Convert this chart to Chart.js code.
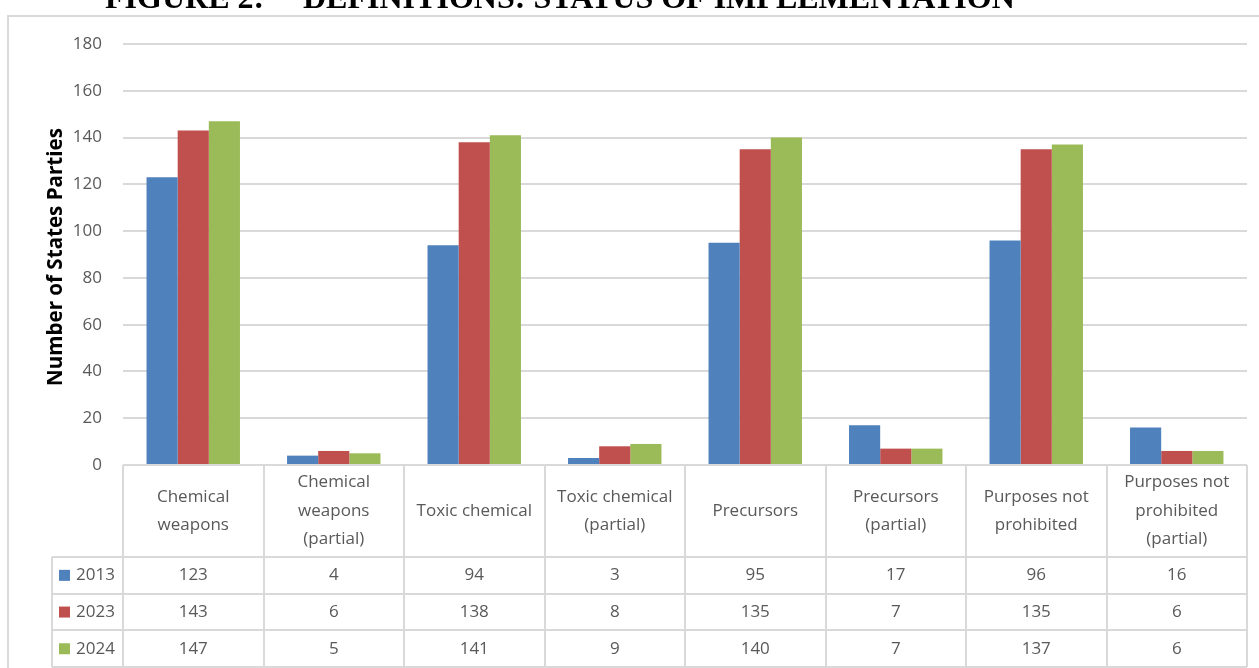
<!DOCTYPE html>
<html>
<head>
<meta charset="utf-8">
<script src="https://cdn.jsdelivr.net/npm/chart.js@4"></script>
<style>
  html, body { margin: 0; padding: 0; background: #ffffff; }
  #wrap { width: 1259px; height: 668px; position: relative; }
</style>
</head>
<body>
<div id="wrap"><canvas id="c" width="1259" height="668"></canvas></div>
<script>
const categories = [
  ["Chemical", "weapons"],
  ["Chemical", "weapons", "(partial)"],
  ["Toxic chemical"],
  ["Toxic chemical", "(partial)"],
  ["Precursors"],
  ["Precursors", "(partial)"],
  ["Purposes not", "prohibited"],
  ["Purposes not", "prohibited", "(partial)"]
];
const seriesNames = ["2013", "2023", "2024"];
const values2013 = [123, 4, 94, 3, 95, 17, 96, 16];
const values2023 = [143, 6, 138, 8, 135, 7, 135, 6];
const values2024 = [147, 5, 141, 9, 140, 7, 137, 6];
const seriesColors = ["#4F81BD", "#C0504D", "#9BBB59"];
const yTicks = { min: 0, max: 180, step: 20 };
const titleLeft = "FIGURE 2:";
const titleRight = "DEFINITIONS: STATUS OF IMPLEMENTATION";
const yAxisTitle = "Number of States Parties";

const FONT = "'Open Sans', Lato, sans-serif";
const TEXT = "#595959";
const LINE = "#d9d9d9";

const allSeries = [values2013, values2023, values2024];

function fitFont(ctx, text, weight, family, target) {
  ctx.font = weight + " 20px " + family;
  const w = ctx.measureText(text).width;
  return weight + " " + (20 * target / w).toFixed(2) + "px " + family;
}

const tablePlugin = {
  id: "tablePlugin",
  beforeDraw(chart) {
    const ctx = chart.ctx;
    ctx.save();
    ctx.fillStyle = "#ffffff";
    ctx.fillRect(0, 0, chart.width, chart.height);
    ctx.strokeStyle = LINE;
    ctx.lineWidth = 2;
    ctx.beginPath();
    ctx.moveTo(8, chart.height + 2);
    ctx.lineTo(8, 16);
    ctx.lineTo(chart.width + 2, 16);
    ctx.stroke();
    ctx.fillStyle = "#000000";
    ctx.textBaseline = "alphabetic";
    ctx.textAlign = "left";
    const serif = "'Liberation Serif', 'DejaVu Serif', serif";
    ctx.font = fitFont(ctx, titleRight, "bold", serif, 712);
    ctx.fillText(titleLeft, 105, 8);
    ctx.fillText(titleRight, 303, 8);
    ctx.restore();
  },
  afterDraw(chart) {
    const ctx = chart.ctx;
    const x = chart.scales.x;
    const area = chart.chartArea;
    const n = categories.length;
    const colW = (x.right - x.left) / n;
    const top = area.bottom;
    const headerBottom = top + 92;
    const rowH = 36.7;
    const tableBottom = headerBottom + rowH * 3;
    const legendLeft = 52;
    ctx.save();
    ctx.strokeStyle = LINE;
    ctx.lineWidth = 2;
    ctx.beginPath();
    for (let i = 0; i <= n; i++) {
      const px = Math.round(x.left + i * colW);
      ctx.moveTo(px, top);
      ctx.lineTo(px, tableBottom);
    }
    ctx.moveTo(legendLeft, headerBottom);
    ctx.lineTo(legendLeft, tableBottom);
    for (let r = 0; r <= 3; r++) {
      const py = Math.round(headerBottom + r * rowH);
      ctx.moveTo(legendLeft, py);
      ctx.lineTo(x.right, py);
    }
    ctx.stroke();

    ctx.fillStyle = TEXT;
    ctx.font = "17px " + FONT;
    ctx.textAlign = "center";
    ctx.textBaseline = "middle";
    const lh = 28.5;
    const hc = (top + headerBottom) / 2;
    for (let i = 0; i < n; i++) {
      const cx = x.getPixelForValue(i);
      const lines = categories[i];
      const y0 = hc - (lines.length - 1) * lh / 2;
      lines.forEach((t, k) => ctx.fillText(t, cx, y0 + k * lh));
      for (let s = 0; s < 3; s++) {
        ctx.fillText(String(allSeries[s][i]), cx, headerBottom + rowH * (s + 0.5));
      }
    }
    ctx.textAlign = "left";
    for (let s = 0; s < 3; s++) {
      const cy = headerBottom + rowH * (s + 0.5);
      ctx.fillStyle = seriesColors[s];
      ctx.fillRect(59, cy - 5.5, 11, 11);
      ctx.fillStyle = TEXT;
      ctx.fillText(seriesNames[s], 76, cy);
    }

    ctx.save();
    ctx.translate(56, 257);
    ctx.rotate(-Math.PI / 2);
    ctx.textAlign = "center";
    ctx.textBaseline = "middle";
    ctx.fillStyle = "#000000";
    ctx.font = fitFont(ctx, yAxisTitle, "bold", FONT, 258);
    ctx.fillText(yAxisTitle, 0, 0);
    ctx.restore();
    ctx.restore();
  }
};

new Chart(document.getElementById("c"), {
  type: "bar",
  data: {
    labels: categories.map(c => c.join(" ")),
    datasets: seriesNames.map((name, i) => ({
      label: name,
      data: allSeries[i],
      backgroundColor: seriesColors[i],
      borderWidth: 0,
      barPercentage: 1,
      categoryPercentage: 0.665
    }))
  },
  options: {
    responsive: false,
    animation: false,
    devicePixelRatio: 1,
    layout: { padding: { top: 44, right: 12, left: 0, bottom: 0 } },
    plugins: { legend: { display: false }, tooltip: { enabled: false } },
    scales: {
      x: {
        grid: { display: false },
        border: { display: false },
        ticks: { display: false },
        afterFit(scale) { scale.height = 203; scale.paddingLeft = 0; scale.paddingRight = 0; }
      },
      y: {
        min: yTicks.min,
        max: yTicks.max,
        ticks: { stepSize: yTicks.step, padding: 21, color: TEXT, font: { family: FONT, size: 17 } },
        grid: { color: LINE, lineWidth: 2, drawTicks: false },
        border: { display: false },
        afterFit(scale) { scale.width = 123; scale.paddingTop = 0; scale.paddingBottom = 0; }
      }
    }
  },
  plugins: [tablePlugin]
});
</script>
</body>
</html>
